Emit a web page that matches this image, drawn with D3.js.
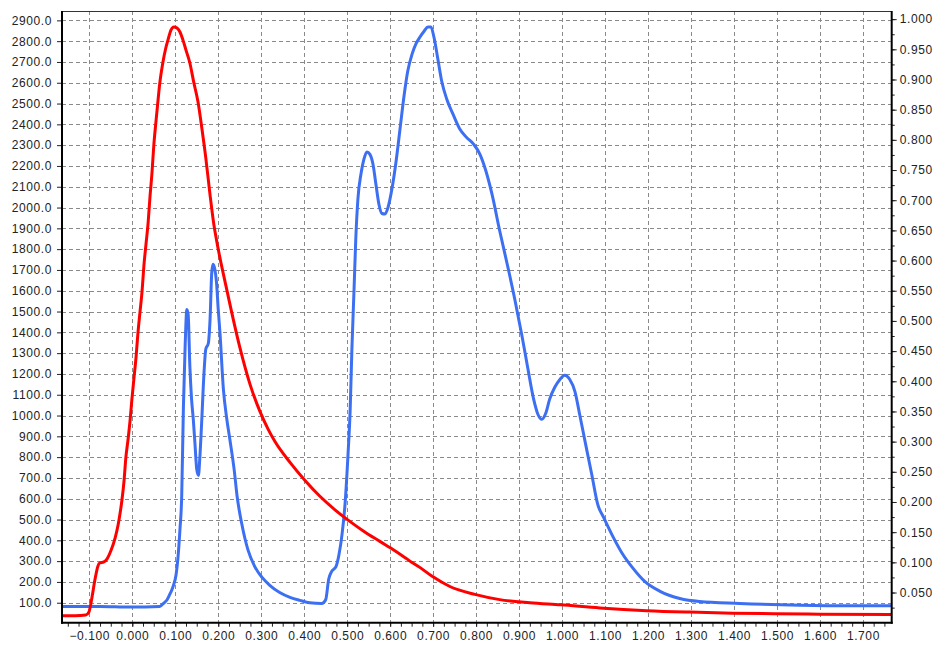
<!DOCTYPE html>
<html lang="en">
<head>
<meta charset="utf-8">
<script src="https://d3js.org/d3.v7.min.js"></script>
<style>
  body { margin: 0; background: #fff; }
  text { font-family: "Liberation Sans", Arial, sans-serif; font-size: 12px; fill: #222; }
</style>
</head>
<body>
<script>
// ---- DATA ----
// red trace, left axis
var redX = [-0.1635, -0.133, -0.108, -0.101, -0.094, -0.087, -0.080, -0.076, -0.066, -0.059, -0.050, -0.040,
            -0.033, -0.029, -0.024, -0.019, -0.015, -0.010, -0.005, -0.001, 0.004, 0.009, 0.013, 0.018,
            0.023, 0.027, 0.032, 0.037, 0.041, 0.046, 0.050, 0.055, 0.060, 0.064, 0.071, 0.078, 0.083,
            0.090, 0.097, 0.104, 0.111, 0.118, 0.125, 0.134, 0.143, 0.153, 0.162, 0.171, 0.181, 0.190,
            0.196, 0.220, 0.250, 0.274, 0.297, 0.316, 0.332, 0.367, 0.402, 0.436, 0.471, 0.507, 0.541,
            0.576, 0.611, 0.634, 0.650, 0.669, 0.697, 0.739, 0.797, 0.855, 0.925, 0.997, 1.088, 1.197,
            1.297, 1.397, 1.497, 1.599, 1.767];
var redY = [38, 38, 41, 55, 123, 209, 276, 291, 296, 310, 349, 411,
            474, 522, 594, 690, 796, 882, 979, 1075, 1181, 1286, 1392, 1498,
            1603, 1719, 1825, 1930, 2046, 2171, 2296, 2411, 2517, 2598, 2695, 2767, 2805,
            2853, 2868, 2863, 2844, 2805, 2757, 2695, 2603, 2507, 2380, 2240, 2060, 1916,
            1844, 1604, 1330, 1150, 1020, 935, 875, 775, 688, 613, 548, 490, 440,
            395, 350, 318, 295, 270, 228, 178, 140, 115, 100, 90, 75, 62,
            55, 50, 47, 45, 44];

// blue trace, right axis
var blueX = [-0.1635, -0.075, -0.005, 0.064, 0.074, 0.081, 0.088, 0.095, 0.102, 0.106, 0.111, 0.115,
             0.119, 0.123, 0.127, 0.130, 0.134, 0.138, 0.142, 0.146, 0.150, 0.154, 0.157, 0.161,
             0.167, 0.171, 0.177, 0.181, 0.185, 0.188, 0.192, 0.196, 0.200, 0.204, 0.212, 0.220,
             0.227, 0.237, 0.244, 0.255, 0.269, 0.285, 0.302, 0.320, 0.343, 0.367, 0.390, 0.413,
             0.441, 0.450, 0.457, 0.464, 0.474, 0.481, 0.488, 0.495, 0.502, 0.507, 0.511, 0.516,
             0.520, 0.525, 0.532, 0.539, 0.546, 0.553, 0.560, 0.567, 0.574, 0.581, 0.588, 0.595,
             0.604, 0.613, 0.623, 0.632, 0.641, 0.651, 0.660, 0.669, 0.679, 0.688, 0.695, 0.702,
             0.711, 0.720, 0.732, 0.746, 0.762, 0.778, 0.794, 0.809, 0.823, 0.837, 0.855, 0.874,
             0.890, 0.906, 0.920, 0.934, 0.944, 0.953, 0.962, 0.971, 0.983, 0.995, 1.006, 1.018,
             1.030, 1.041, 1.055, 1.069, 1.083, 1.097, 1.116, 1.139, 1.163, 1.193, 1.228, 1.274,
             1.320, 1.413, 1.553, 1.669, 1.767];
var blueY = [0.027, 0.027, 0.026, 0.027, 0.033, 0.038, 0.048, 0.060, 0.080, 0.105, 0.155, 0.209,
             0.358, 0.458, 0.519, 0.511, 0.425, 0.370, 0.337, 0.295, 0.254, 0.244, 0.271, 0.325,
             0.415, 0.453, 0.463, 0.503, 0.581, 0.594, 0.586, 0.564, 0.519, 0.481, 0.387, 0.337,
             0.304, 0.254, 0.209, 0.163, 0.121, 0.093, 0.075, 0.062, 0.050, 0.042, 0.037, 0.033,
             0.032, 0.038, 0.072, 0.085, 0.093, 0.113, 0.146, 0.196, 0.279, 0.353, 0.453, 0.552,
             0.635, 0.702, 0.743, 0.768, 0.780, 0.776, 0.760, 0.726, 0.693, 0.678, 0.677, 0.688,
             0.718, 0.760, 0.818, 0.871, 0.914, 0.942, 0.959, 0.970, 0.980, 0.987, 0.987, 0.970,
             0.934, 0.897, 0.867, 0.843, 0.818, 0.804, 0.793, 0.776, 0.748, 0.710, 0.649, 0.589,
             0.536, 0.478, 0.423, 0.370, 0.345, 0.337, 0.347, 0.370, 0.390, 0.403, 0.410, 0.403,
             0.383, 0.345, 0.295, 0.246, 0.196, 0.174, 0.146, 0.116, 0.092, 0.068, 0.052, 0.040,
             0.035, 0.032, 0.029, 0.028, 0.028];

// ticks
var xTicks = d3.range(-1, 18).map(function (d) { return d / 10; });
var leftTicks = d3.range(1, 30).map(function (d) { return d * 100; });
var rightTicks = d3.range(1, 21).map(function (d) { return d / 20; });

// ---- LAYOUT ----
var W = 934, H = 649;
var L = 62, T = 11, R = 891.7, B = 622.7;

var svg = d3.select("body").append("svg")
    .attr("width", W)
    .attr("height", H);

var x = d3.scaleLinear().domain([-0.1635, 1.767]).range([L, R]);
var yL = d3.scaleLinear().domain([4, 2945]).range([B, T]);
var yR = d3.scaleLinear().domain([0, 1.0135]).range([B, T]);

svg.append("defs").append("clipPath").attr("id", "plot")
    .append("rect").attr("x", L).attr("y", T).attr("width", R - L).attr("height", B - T);

// GRID
var grid = svg.append("g")
    .attr("stroke", "#8a8a8a")
    .attr("stroke-width", 1)
    .attr("stroke-dasharray", "4,3");

grid.selectAll(".gx").data(xTicks).enter().append("line")
    .attr("x1", function (d) { return Math.round(x(d)) + 0.5; })
    .attr("x2", function (d) { return Math.round(x(d)) + 0.5; })
    .attr("y1", T).attr("y2", B);

grid.selectAll(".gy").data(leftTicks).enter().append("line")
    .attr("y1", function (d) { return Math.round(yL(d)) + 0.5; })
    .attr("y2", function (d) { return Math.round(yL(d)) + 0.5; })
    .attr("x1", L).attr("x2", R);

// CURVES
var plot = svg.append("g").attr("clip-path", "url(#plot)");

var redLine = d3.line()
    .x(function (d, i) { return x(redX[i]); })
    .y(function (d) { return yL(d); })
    .curve(d3.curveMonotoneX);

var blueLine = d3.line()
    .x(function (d, i) { return x(blueX[i]); })
    .y(function (d) { return yR(d); })
    .curve(d3.curveMonotoneX);

plot.append("path").datum(blueY)
    .attr("d", blueLine)
    .attr("fill", "none")
    .attr("stroke", "#3d6ff2")
    .attr("stroke-width", 3)
    .attr("stroke-linejoin", "round");

plot.append("path").datum(redY)
    .attr("d", redLine)
    .attr("fill", "none")
    .attr("stroke", "#ff0000")
    .attr("stroke-width", 3)
    .attr("stroke-linejoin", "round");

// AXES
var xAxis = d3.axisBottom(x).tickValues(xTicks).tickSize(4).tickPadding(5)
    .tickFormat(d3.format(".3f"));
var xMinor = d3.axisBottom(x).tickValues(d3.range(-6, 71).map(function (d) { return d / 40; }))
    .tickSize(4).tickFormat("");
var leftAxis = d3.axisLeft(yL).tickValues(leftTicks).tickSize(5).tickPadding(5)
    .tickFormat(d3.format(".1f"));
var rightAxis = d3.axisRight(yR).tickValues(rightTicks).tickSize(5).tickPadding(3)
    .tickFormat(d3.format(".3f"));
var rightMinor = d3.axisRight(yR).tickValues(d3.range(1, 41).map(function (d) { return d / 40; }))
    .tickSize(3).tickFormat("");

svg.append("g").attr("transform", "translate(0," + B + ")").call(xMinor);
svg.append("g").attr("transform", "translate(0," + B + ")").call(xAxis);
svg.append("g").attr("transform", "translate(" + L + ",0)").call(leftAxis);
svg.append("g").attr("transform", "translate(" + R + ",0)").call(rightMinor);
svg.append("g").attr("transform", "translate(" + R + ",0)").call(rightAxis);

svg.selectAll(".domain").remove();
svg.selectAll(".tick line").attr("stroke", "#222");
svg.selectAll(".tick text").attr("fill", "#222")
    .style("font-family", "'Liberation Sans', Arial, sans-serif")
    .style("font-size", "12px")
    .style("letter-spacing", "0.6px");

// frame: thin top, heavy left / bottom / right
svg.append("line").attr("x1", L).attr("x2", R).attr("y1", T + 0.5).attr("y2", T + 0.5)
    .attr("stroke", "#333").attr("stroke-width", 1);
svg.append("line").attr("x1", L).attr("x2", L).attr("y1", T).attr("y2", B + 1)
    .attr("stroke", "#000").attr("stroke-width", 2);
svg.append("line").attr("x1", L - 1).attr("x2", R + 1).attr("y1", B).attr("y2", B)
    .attr("stroke", "#000").attr("stroke-width", 2);
svg.append("line").attr("x1", R).attr("x2", R).attr("y1", T).attr("y2", B + 1)
    .attr("stroke", "#000").attr("stroke-width", 2);
</script>
</body>
</html>
